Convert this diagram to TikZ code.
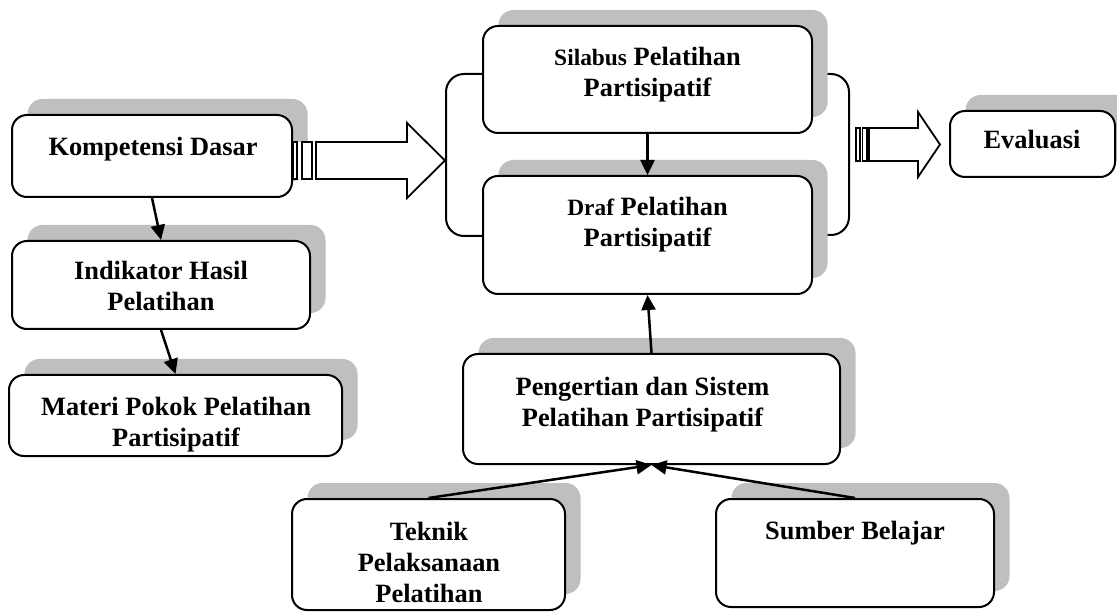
\documentclass[tikz,border=0pt]{standalone}
\usepackage{fontspec}
\setmainfont{Liberation Serif}
\usetikzlibrary{arrows.meta,shadows}

\newcommand{\smtext}[1]{{\fontsize{23.4}{31}\selectfont #1}}

\tikzset{
    box/.style={draw, line width=2pt, rounded corners=15pt, fill=white,
        general shadow={shadow xshift=15.5pt, shadow yshift=16pt, fill=black!25}},
    txt/.style={font=\fontsize{26.4}{31}\selectfont\bfseries, align=center,
        inner sep=0pt, anchor=north},
    arr/.style={line width=2.5pt, -{Triangle[length=15pt,width=14pt]}},
    blockarr/.style={draw, line width=1.8pt, fill=white},
    bracket/.style={line width=2pt, rounded corners=18pt}
}

\begin{document}
\begin{tikzpicture}[x=1pt,y=-1pt]

    \useasboundingbox (0,0) rectangle (1117,612);

    % Brackets round silabus and draf
    \draw[bracket] (483,74) -- (446,74) -- (446,236) -- (483,236);
    \draw[bracket] (812,74) -- (849,74) -- (849,235) -- (812,235);

    % Boxes
    \foreach \nm/\cx/\cy/\w/\h in {komp/152/156/280/82, indik/161/285/298/88,
        materi/175.5/415.5/333/81, silabus/647.5/79.5/329/107,
        draf/647.5/235/329/118, pengertian/651.5/409/377/110,
        teknik/428.5/554.5/273/111, sumber/855/553/278/108,
        evaluasi/1032.5/144/165/66} {
        \node[box, minimum width=\w pt, minimum height=\h pt] (\nm) at (\cx,\cy) {};
    }

    % Texts
    \node[txt] (komp-txt) at (153,137) {Kompetensi Dasar};
    \node[txt] (indik-txt) at (161,261) {Indikator Hasil\\Pelatihan};
    \node[txt] (materi-txt) at (176,397) {Materi Pokok Pelatihan\\Partisipatif};
    \node[txt] (silabus-txt) at (647.5,47) {\smtext{Silabus} Pelatihan\\Partisipatif};
    \node[txt] (draf-txt) at (647.5,197) {\smtext{Draf} Pelatihan\\Partisipatif};
    \node[txt] (pengertian-txt) at (642.5,377) {Pengertian dan Sistem\\Pelatihan Partisipatif};
    \node[txt] (teknik-txt) at (429,522) {Teknik\\Pelaksanaan\\Pelatihan};
    \node[txt] (sumber-txt) at (855,521) {Sumber Belajar};
    \node[txt] (evaluasi-txt) at (1032,130) {Evaluasi};

    % Arrows
    \draw[arr] (komp.south) -- (indik.north);
    \draw[arr] (indik.south) -- (materi.north);
    \draw[arr] (silabus.south) -- (draf.north);
    \draw[arr] (pengertian.north) -- (draf.south);
    \draw[arr] (teknik.north) -- (pengertian.south);
    \draw[arr] (sumber.north) -- (pengertian.south);

    % Striped block arrows
    \fill[white] (293,142) rectangle (316,179);
    \draw[blockarr] (293,142) rectangle (297,179);
    \draw[blockarr] (302,142) rectangle (312,179);
    \draw[blockarr] (316,142) -- (407,142) -- (407,123) -- (445,160.5)
        -- (407,198) -- (407,179) -- (316,179) -- cycle;

    \draw[blockarr] (856,128) rectangle (860,161);
    \draw[blockarr] (862.5,128) rectangle (867,161);
    \draw[blockarr] (869,128) -- (918,128) -- (918,112) -- (940,144.5)
        -- (918,177) -- (918,161) -- (869,161) -- cycle;

\end{tikzpicture}
\end{document}
